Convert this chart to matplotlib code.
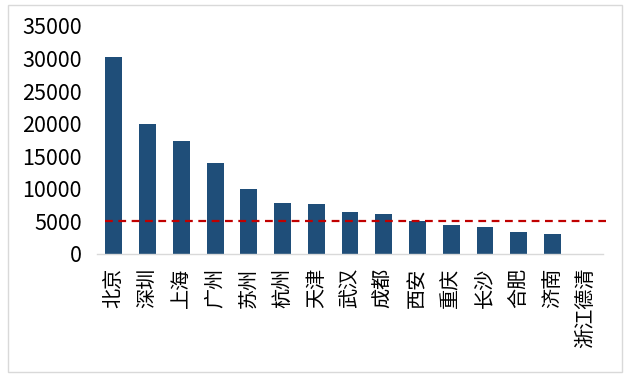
import matplotlib
matplotlib.use("Agg")
import matplotlib.pyplot as plt
from matplotlib.patches import Rectangle

plt.rcParams['font.family'] = ['Noto Sans CJK SC', 'DejaVu Sans']

cities = ["北京", "深圳", "上海", "广州", "苏州", "杭州", "天津", "武汉", "成都",
          "西安", "重庆", "长沙", "合肥", "济南", "浙江德清"]
values = [30300, 20000, 17400, 13900, 10000, 7900, 7700, 6450, 6150,
          5050, 4450, 4150, 3400, 3100, 0]
threshold = 5000
yticks = [0, 5000, 10000, 15000, 20000, 25000, 30000, 35000]

fig = plt.figure(figsize=(6.3, 3.82), dpi=100)
fig.patches.append(Rectangle((8/630, 1-372/382), (622-8)/630, (372-5)/382,
                             transform=fig.transFigure, fill=False,
                             edgecolor='#d9d9d9', linewidth=1.0))
ax = fig.add_axes([97/630, 1-254/382, (603-97)/630, (254-26)/382])

x = list(range(len(cities)))
ax.bar(x, values, width=0.5, color='#1F4E79', zorder=2)
ax.axhline(threshold, xmin=0.016, xmax=1.006, color='#C00000', linewidth=1.6,
           linestyle=(0, (3.5, 2.5)), zorder=3, clip_on=False)

ax.set_xlim(-0.5, len(cities) - 0.5)
ax.set_ylim(0, 35000)
ax.set_yticks(yticks)
ax.set_yticklabels([str(v) for v in yticks], fontsize=15.5, color='#000000')
ax.set_xticks(x)
ax.set_xticklabels(cities, rotation=90, fontsize=14.5, color='#000000')
ax.tick_params(axis='both', length=0)
ax.tick_params(axis='y', pad=11)
ax.tick_params(axis='x', pad=10)
for s in ['top', 'right', 'left']:
    ax.spines[s].set_visible(False)
ax.spines['bottom'].set_color('#d9d9d9')
ax.spines['bottom'].set_linewidth(1.0)

fig.savefig('out.png', dpi=100)
